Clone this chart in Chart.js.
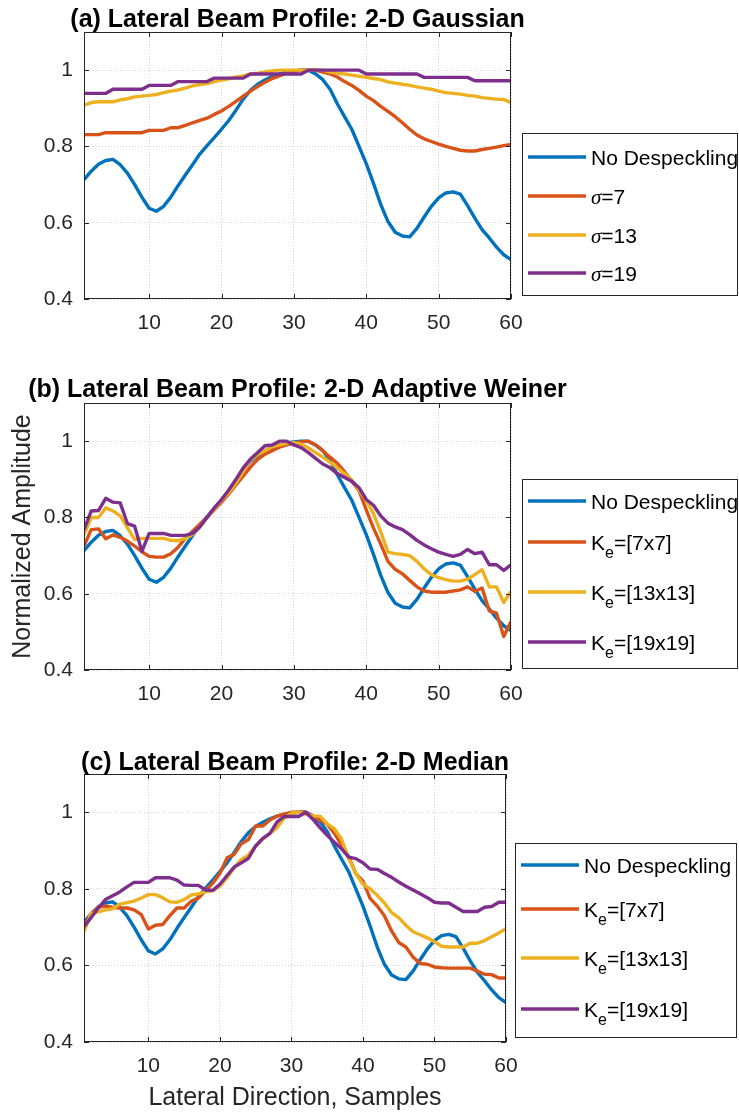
<!DOCTYPE html>
<html>
<head>
<meta charset="utf-8">
<title>Lateral Beam Profiles</title>
<script src="https://cdn.jsdelivr.net/npm/chart.js@4.4.0/dist/chart.umd.min.js"></script>
<style>
  html, body { margin: 0; padding: 0; background: #fff; }
  #page { position: relative; width: 739px; height: 1113px; overflow: hidden; background: #fff; }
  .panel { position: absolute; left: 0; width: 739px; }
  .panel canvas { display: block; }
</style>
</head>
<body>
<div id="page">
  <div class="panel" style="top:0"><canvas id="gauss" width="739" height="370"></canvas></div>
  <div class="panel" style="top:370px"><canvas id="wiener" width="739" height="372"></canvas></div>
  <div class="panel" style="top:742px"><canvas id="median" width="739" height="371"></canvas></div>
</div>
<script>
// lateral sample index
const samples = [1,2,3,4,5,6,7,8,9,10,11,12,13,14,15,16,17,18,19,20,
  21,22,23,24,25,26,27,28,29,30,31,32,33,34,35,36,37,38,39,40,
  41,42,43,44,45,46,47,48,49,50,51,52,53,54,55,56,57,58,59,60];

const xTicks = [10, 20, 30, 40, 50, 60];
const yTicks = [0.4, 0.6, 0.8, 1];

// raw profile, shared by all three panels
const noDespeckling = [0.713,0.735,0.753,0.763,0.766,0.752,0.730,0.700,0.667,0.638,
  0.630,0.643,0.667,0.697,0.725,0.752,0.780,0.802,0.823,0.845,
  0.868,0.895,0.924,0.947,0.963,0.974,0.983,0.990,0.995,0.998,
  1.000,1.000,0.990,0.975,0.950,0.912,0.878,0.845,0.800,0.755,
  0.703,0.648,0.603,0.575,0.565,0.563,0.585,0.615,0.643,0.665,
  0.678,0.681,0.675,0.645,0.612,0.582,0.560,0.536,0.516,0.503];

// (a) gaussian
const gaussS7 = [0.831,0.831,0.831,0.836,0.836,0.836,0.836,0.836,0.836,0.842,
  0.842,0.842,0.849,0.849,0.855,0.862,0.868,0.874,0.884,0.893,
  0.905,0.918,0.932,0.945,0.957,0.968,0.978,0.985,0.992,0.997,
  1.000,1.000,1.000,0.995,0.990,0.982,0.970,0.960,0.947,0.932,
  0.920,0.905,0.892,0.878,0.862,0.845,0.830,0.820,0.813,0.806,
  0.800,0.795,0.790,0.788,0.788,0.792,0.795,0.798,0.802,0.805];
const gaussS13 = [0.908,0.915,0.917,0.917,0.917,0.922,0.925,0.930,0.932,0.934,
  0.936,0.941,0.945,0.948,0.953,0.959,0.962,0.965,0.970,0.974,
  0.977,0.982,0.985,0.990,0.992,0.995,0.998,1.000,1.000,1.000,
  1.000,1.000,1.000,1.000,0.995,0.992,0.990,0.987,0.984,0.981,
  0.978,0.975,0.969,0.966,0.963,0.960,0.956,0.953,0.950,0.945,
  0.941,0.939,0.937,0.934,0.932,0.928,0.926,0.924,0.923,0.915];
const gaussS19 = [0.939,0.939,0.939,0.939,0.950,0.950,0.950,0.950,0.950,0.960,
  0.960,0.960,0.960,0.970,0.970,0.970,0.970,0.970,0.979,0.979,
  0.979,0.979,0.979,0.990,0.990,0.990,0.990,0.990,0.990,0.990,
  0.990,1.000,1.000,1.000,1.000,1.000,1.000,1.000,1.000,0.990,
  0.990,0.990,0.990,0.990,0.990,0.990,0.990,0.981,0.981,0.981,
  0.981,0.981,0.981,0.981,0.972,0.972,0.972,0.972,0.972,0.972];

// (b) adaptive wiener
const wienerK7 = [0.725,0.768,0.770,0.744,0.754,0.748,0.738,0.725,0.710,0.698,
  0.696,0.696,0.705,0.722,0.745,0.764,0.782,0.800,0.820,0.840,
  0.862,0.885,0.909,0.932,0.952,0.966,0.975,0.984,0.990,0.995,
  0.998,1.000,0.990,0.975,0.958,0.942,0.920,0.895,0.870,0.820,
  0.772,0.730,0.685,0.664,0.652,0.635,0.618,0.607,0.604,0.604,
  0.604,0.607,0.610,0.618,0.606,0.615,0.555,0.549,0.488,0.527];
const wienerK13 = [0.755,0.800,0.800,0.825,0.817,0.804,0.773,0.742,0.745,0.745,
  0.745,0.745,0.740,0.739,0.745,0.755,0.775,0.800,0.822,0.845,
  0.865,0.890,0.920,0.950,0.965,0.975,0.985,0.990,0.994,0.996,
  0.992,0.982,0.970,0.958,0.945,0.930,0.915,0.898,0.872,0.845,
  0.810,0.762,0.709,0.705,0.703,0.700,0.685,0.665,0.650,0.642,
  0.637,0.633,0.633,0.638,0.650,0.663,0.618,0.618,0.577,0.606];
const wienerK19 = [0.768,0.817,0.818,0.850,0.840,0.838,0.784,0.777,0.711,0.758,
  0.758,0.758,0.753,0.753,0.753,0.758,0.775,0.800,0.825,0.847,
  0.872,0.900,0.930,0.953,0.970,0.988,0.990,1.000,1.000,0.990,
  0.983,0.970,0.955,0.940,0.930,0.915,0.905,0.895,0.878,0.847,
  0.832,0.804,0.785,0.775,0.768,0.755,0.740,0.728,0.718,0.709,
  0.703,0.698,0.703,0.716,0.705,0.709,0.676,0.676,0.661,0.676];

// (c) median
const medianK7 = [0.700,0.735,0.752,0.755,0.752,0.750,0.750,0.745,0.733,0.695,
  0.705,0.707,0.730,0.750,0.750,0.768,0.776,0.795,0.815,0.840,
  0.881,0.890,0.918,0.929,0.964,0.964,0.980,0.990,0.995,1.000,
  1.000,1.000,0.990,0.980,0.969,0.945,0.915,0.885,0.840,0.820,
  0.775,0.755,0.730,0.690,0.660,0.648,0.622,0.605,0.603,0.596,
  0.594,0.593,0.593,0.593,0.593,0.585,0.577,0.576,0.567,0.567];
const medianK13 = [0.689,0.735,0.740,0.745,0.748,0.760,0.764,0.768,0.776,0.785,
  0.785,0.777,0.766,0.765,0.772,0.784,0.787,0.793,0.795,0.807,
  0.829,0.855,0.877,0.888,0.912,0.930,0.945,0.960,0.985,0.998,
  1.000,0.995,0.990,0.990,0.970,0.957,0.930,0.880,0.840,0.812,
  0.800,0.783,0.763,0.738,0.725,0.705,0.688,0.680,0.672,0.662,
  0.650,0.648,0.648,0.648,0.658,0.658,0.665,0.675,0.685,0.696];
const medianK19 = [0.702,0.725,0.750,0.772,0.782,0.792,0.805,0.817,0.817,0.817,
  0.829,0.829,0.829,0.823,0.810,0.809,0.809,0.797,0.796,0.812,
  0.835,0.857,0.868,0.880,0.912,0.932,0.945,0.975,0.989,0.989,
  0.989,1.000,0.982,0.960,0.940,0.922,0.905,0.883,0.879,0.868,
  0.852,0.851,0.840,0.830,0.818,0.807,0.797,0.787,0.777,0.765,
  0.763,0.763,0.752,0.741,0.741,0.741,0.752,0.754,0.765,0.765];

// legend entries, split into runs so greek letters and subscripts get their own font
const gaussLabels = [
  [{text: 'No Despeckling'}],
  [{text: 'σ', style: 'greek'}, {text: '=7'}],
  [{text: 'σ', style: 'greek'}, {text: '=13'}],
  [{text: 'σ', style: 'greek'}, {text: '=19'}]
];
const kernelLabels = [
  [{text: 'No Despeckling'}],
  [{text: 'K'}, {text: 'e', style: 'sub'}, {text: '=[7x7]'}],
  [{text: 'K'}, {text: 'e', style: 'sub'}, {text: '=[13x13]'}],
  [{text: 'K'}, {text: 'e', style: 'sub'}, {text: '=[19x19]'}]
];

const colors = ['#0072BD', '#D95319', '#EDB120', '#7E2F8E'];
const SANS = '"Liberation Sans", Arial, Helvetica, sans-serif';
const INK = '#262626';

Chart.defaults.font.family = SANS;

function drawRuns(ctx, x, y, runs) {
  runs.forEach(r => {
    let dy = 0;
    if (r.style === 'greek') ctx.font = 'italic 21px "Liberation Serif", "DejaVu Serif", serif';
    else if (r.style === 'sub') { ctx.font = '16px ' + SANS; dy = 8; }
    else ctx.font = '21px ' + SANS;
    ctx.fillText(r.text, x, y + dy);
    x += ctx.measureText(r.text).width;
  });
}

function makePanel(id, p) {
  const datasets = p.series.map((values, i) => ({
    data: samples.map((x, j) => ({x: x, y: values[j]})),
    borderColor: colors[i],
    borderWidth: 3.4,
    borderJoinStyle: 'round',
    pointRadius: 0,
    tension: 0,
    order: p.series.length - i
  }));

  // box, inward ticks, title and boxed legend
  const decor = {
    id: 'decor',
    afterDraw(chart) {
      const {ctx, chartArea: a, scales} = chart;
      ctx.save();
      ctx.strokeStyle = INK;
      ctx.lineWidth = 1;
      ctx.beginPath();
      scales.x.ticks.forEach(t => {
        const px = Math.round(scales.x.getPixelForValue(t.value)) + 0.5;
        ctx.moveTo(px, a.bottom); ctx.lineTo(px, a.bottom - 5);
        ctx.moveTo(px, a.top); ctx.lineTo(px, a.top + 5);
      });
      scales.y.ticks.forEach(t => {
        const py = Math.round(scales.y.getPixelForValue(t.value)) + 0.5;
        ctx.moveTo(a.left, py); ctx.lineTo(a.left + 5, py);
        ctx.moveTo(a.right, py); ctx.lineTo(a.right - 5, py);
      });
      ctx.stroke();
      ctx.strokeRect(a.left + 0.5, a.top + 0.5, a.right - a.left - 1, a.bottom - a.top - 1);

      ctx.fillStyle = '#000';
      ctx.textAlign = 'center';
      ctx.textBaseline = 'alphabetic';
      ctx.font = 'bold 25px ' + SANS;
      ctx.fillText(p.title, (a.left + a.right) / 2, a.top - p.titleGap);

      const lg = p.legend;
      ctx.fillStyle = '#fff';
      ctx.fillRect(lg.left, lg.top, lg.width, lg.height);
      ctx.strokeStyle = INK;
      ctx.strokeRect(lg.left + 0.5, lg.top + 0.5, lg.width - 1, lg.height - 1);
      ctx.textAlign = 'left';
      p.labels.forEach((runs, i) => {
        const y = lg.top + lg.rows[i];
        ctx.strokeStyle = colors[i];
        ctx.lineWidth = 3.5;
        ctx.beginPath();
        ctx.moveTo(lg.left + 6, y);
        ctx.lineTo(lg.left + 64, y);
        ctx.stroke();
        ctx.fillStyle = '#000';
        drawRuns(ctx, lg.left + 69, y + 7.5, runs);
      });
      ctx.restore();
    }
  };

  return new Chart(document.getElementById(id), {
    type: 'line',
    data: {datasets},
    options: {
      responsive: false,
      animation: false,
      events: [],
      layout: {padding: {top: p.padTop, right: p.padRight, bottom: 0, left: 0}},
      plugins: {legend: {display: false}, tooltip: {enabled: false}},
      scales: {
        x: {
          type: 'linear', min: 1, max: 60,
          afterBuildTicks: s => { s.ticks = xTicks.map(v => ({value: v})); },
          afterFit: s => { s.height = p.xHeight; },
          grid: {color: '#d4d4d4', drawTicks: false},
          border: {display: false, dash: [1, 2]},
          ticks: {padding: 12, color: INK, font: {size: 21}, autoSkip: false, maxRotation: 0,
            callback: v => String(v)},
          title: {display: !!p.xTitle, text: p.xTitle || '', color: INK, font: {size: 25},
            padding: {top: 0, bottom: 0}}
        },
        y: {
          min: 0.4, max: 1.1,
          afterBuildTicks: s => { s.ticks = yTicks.map(v => ({value: v})); },
          afterFit: s => { s.width = 84; },
          grid: {color: '#d4d4d4', drawTicks: false},
          border: {display: false, dash: [1, 2]},
          ticks: {padding: 11, color: INK, font: {size: 21}, autoSkip: false,
            callback: v => (v === 1 ? '1' : v.toFixed(1))},
          title: {display: !!p.yTitle, text: p.yTitle || '', color: INK, font: {size: 25},
            padding: {top: 8, bottom: 0}}
        }
      }
    },
    plugins: [decor]
  });
}

makePanel('gauss', {
  title: '(a) Lateral Beam Profile: 2-D Gaussian', titleGap: 5,
  series: [noDespeckling, gaussS7, gaussS13, gaussS19],
  labels: gaussLabels,
  padTop: 32, padRight: 228, xHeight: 71,
  legend: {left: 522, top: 133, width: 216, height: 163, rows: [24, 63, 102, 140]}
});

makePanel('wiener', {
  title: '(b) Lateral Beam Profile: 2-D Adaptive Weiner', titleGap: 6,
  series: [noDespeckling, wienerK7, wienerK13, wienerK19],
  labels: kernelLabels,
  padTop: 33, padRight: 228, xHeight: 72,
  yTitle: 'Normalized Amplitude',
  legend: {left: 522, top: 109, width: 216, height: 190, rows: [22, 63, 113, 163]}
});

makePanel('median', {
  title: '(c) Lateral Beam Profile: 2-D Median', titleGap: 4,
  series: [noDespeckling, medianK7, medianK13, medianK19],
  labels: kernelLabels,
  padTop: 32, padRight: 233, xHeight: 71,
  xTitle: 'Lateral Direction, Samples',
  legend: {left: 515, top: 101, width: 222, height: 195, rows: [22, 66, 115, 166]}
});
</script>
</body>
</html>
